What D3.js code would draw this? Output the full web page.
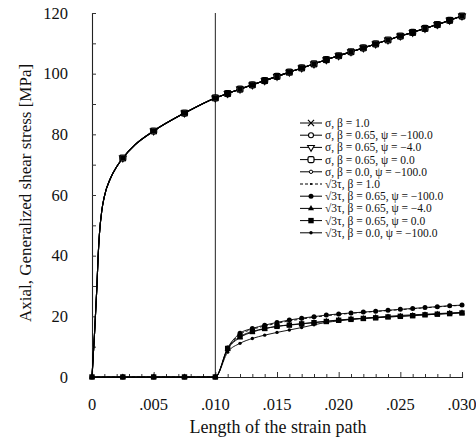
<!DOCTYPE html>
<html><head><meta charset="utf-8">
<script src="https://cdn.jsdelivr.net/npm/d3@7"></script>
<style>
html,body{margin:0;padding:0;background:#fff;}
svg{display:block;}
</style></head>
<body>
<script>
// ---------- data ----------
const sigmaStrain = [0, 0.0002, 0.0004, 0.0005, 0.0006, 0.0008, 0.001, 0.0015, 0.002, 0.0025, 0.0035, 0.005, 0.0075,
  0.010, 0.011, 0.012, 0.013, 0.014, 0.015, 0.016, 0.017, 0.018, 0.019, 0.020,
  0.021, 0.022, 0.023, 0.024, 0.025, 0.026, 0.027, 0.028, 0.029, 0.030];
const sigmaStress = [0, 14, 30, 40, 47, 55, 59.5, 65.5, 69.3, 72.2, 76.6, 81.1, 87.0,
  92.0, 93.45, 94.9, 96.3, 97.7, 99.1, 100.5, 101.9, 103.2, 104.6, 105.9,
  107.2, 108.5, 109.8, 111.1, 112.4, 113.6, 114.9, 116.2, 117.6, 119.0];
// strains at which the σ curve carries a symbol
const sigmaMarkedStrain = [0.0025, 0.005, 0.0075, 0.010, 0.011, 0.012, 0.013, 0.014, 0.015, 0.016, 0.017, 0.018, 0.019, 0.020,
  0.021, 0.022, 0.023, 0.024, 0.025, 0.026, 0.027, 0.028, 0.029, 0.030];

const tauStrain = [0, 0.0025, 0.005, 0.0075, 0.010, 0.011, 0.012, 0.013, 0.014, 0.015, 0.016, 0.017, 0.018, 0.019, 0.020,
  0.021, 0.022, 0.023, 0.024, 0.025, 0.026, 0.027, 0.028, 0.029, 0.030];
const tauB100 = [0,0,0,0, 0, 9.4, 14.0, 15.7, 16.8, 17.7, 18.5, 19.1, 19.7, 20.2, 20.6, 21.0, 21.3, 21.6, 21.9, 22.2, 22.5, 22.8, 23.1, 23.4, 23.6];
const tauB065P100 = [0,0,0,0, 0, 9.6, 14.4, 16.0, 17.1, 18.0, 18.8, 19.4, 19.9, 20.4, 20.8, 21.1, 21.4, 21.7, 22.0, 22.3, 22.6, 22.9, 23.2, 23.5, 23.7];
const tauB065P4 = [0,0,0,0, 0, 9.2, 13.0, 14.8, 15.9, 16.7, 17.2, 17.6, 18.0, 18.4, 18.8, 19.1, 19.3, 19.6, 19.8, 20.0, 20.3, 20.5, 20.7, 21.0, 21.2];
const tauB065P0 = [0,0,0,0, 0, 9.4, 13.3, 15.0, 16.0, 16.7, 17.1, 17.5, 17.9, 18.3, 18.7, 19.0, 19.3, 19.5, 19.8, 20.0, 20.2, 20.5, 20.7, 20.9, 21.1];
const tauB000P100 = [0,0,0,0, 0, 8.2, 11.1, 12.7, 13.8, 14.7, 15.5, 16.3, 17.2, 18.0, 18.5, 19.0, 19.4, 19.7, 20.0, 20.3, 20.5, 20.7, 20.9, 21.1, 21.3];

const legendLabels = [
  "σ, β = 1.0",
  "σ, β = 0.65, ψ = −100.0",
  "σ, β = 0.65, ψ = −4.0",
  "σ, β = 0.65, ψ = 0.0",
  "σ, β = 0.0, ψ = −100.0",
  "√3τ, β = 1.0",
  "√3τ, β = 0.65, ψ = −100.0",
  "√3τ, β = 0.65, ψ = −4.0",
  "√3τ, β = 0.65, ψ = 0.0",
  "√3τ, β = 0.0, ψ = −100.0"
];
const markerTypes = ["times","circleOpen","triangleOpen","squareOpen","smallCircleOpen",
                     "tinyDot","circleFilled","triangleFilled","squareFilled","smallDot"];
const yTicks = [0, 20, 40, 60, 80, 100, 120];
const xTicks = [0, 0.005, 0.010, 0.015, 0.020, 0.025, 0.030];
const xTickLabels = ["0", ".005", ".010", ".015", ".020", ".025", ".030"];
const xTitle = "Length of the strain path";
const yTitle = "Axial, Generalized shear stress [MPa]";

// ---------- series ----------
const series = [
  {x: sigmaStrain, y: sigmaStress},
  {x: sigmaStrain, y: sigmaStress},
  {x: sigmaStrain, y: sigmaStress},
  {x: sigmaStrain, y: sigmaStress},
  {x: sigmaStrain, y: sigmaStress},
  {x: tauStrain, y: tauB100, dash: "3,2"},
  {x: tauStrain, y: tauB065P100},
  {x: tauStrain, y: tauB065P4},
  {x: tauStrain, y: tauB065P0},
  {x: tauStrain, y: tauB000P100}
].map((s, i) => ({...s, label: legendLabels[i], marker: markerTypes[i]}));

// ---------- layout ----------
const W = 476, H = 443;
const FONT = "'Liberation Serif'";
const m = {left: 92, right: 14, top: 13, bottom: 66};
const svg = d3.select("body").append("svg").attr("width", W).attr("height", H)
  .attr("font-family", FONT);
const x = d3.scaleLinear().domain([0, 0.030]).range([m.left, W - m.right]);
const y = d3.scaleLinear().domain([0, 120]).range([H - m.bottom, m.top]);

// axes
const yAxis = d3.axisLeft(y).tickValues(d3.range(0, 121, 10)).tickSize(-4).tickFormat("");
svg.append("g").attr("transform", `translate(${m.left},0)`).call(yAxis)
  .call(g => g.select(".domain").attr("stroke", "#222").attr("stroke-width", 1.1))
  .call(g => g.selectAll(".tick line").attr("stroke", "#333"));
svg.append("g").selectAll("text").data(yTicks).join("text")
  .attr("x", 68).attr("y", d => y(d)).attr("dy", "0.35em")
  .attr("text-anchor", "end").attr("font-size", 16.5).attr("fill", "#111")
  .attr("font-family", FONT).text(d => d);

const xMinor = d3.range(0, 31).map(i => i / 1000);
const xAxis = d3.axisBottom(x).tickValues(xMinor).tickSize(-3).tickFormat("");
svg.append("g").attr("transform", `translate(0,${y(0)})`).call(xAxis)
  .call(g => g.select(".domain").attr("stroke", "#222").attr("stroke-width", 1.1))
  .call(g => g.selectAll(".tick line").attr("stroke", "#333")
     .attr("y2", d => (Math.round(d * 1000) % 5 === 0 ? -5 : -3)));
svg.append("g").selectAll("text").data(xTicks).join("text")
  .attr("x", d => x(d)).attr("y", 410)
  .attr("text-anchor", "middle").attr("font-size", 16.5).attr("fill", "#111")
  .attr("font-family", FONT).text((d, i) => xTickLabels[i]);

svg.append("text").attr("x", 278).attr("y", 433).attr("text-anchor", "middle")
  .attr("font-size", 18).attr("fill", "#111").attr("font-family", FONT).text(xTitle);
svg.append("text").attr("transform", "translate(31,193) rotate(-90)")
  .attr("text-anchor", "middle").attr("font-size", 17).attr("fill", "#111")
  .attr("font-family", FONT).text(yTitle);

// vertical reference line at strain 0.010
svg.append("line").attr("x1", x(0.010)).attr("x2", x(0.010))
  .attr("y1", y(0)).attr("y2", y(120)).attr("stroke", "#222").attr("stroke-width", 1);

// ---------- markers ----------
function drawMarker(g, type, cx, cy) {
  const k = g.append("g").attr("transform", `translate(${cx},${cy})`);
  const sym = (t, size) => d3.symbol().type(t).size(size)();
  switch (type) {
    case "times": k.append("path").attr("d", sym(d3.symbolTimes, 26)).attr("stroke", "#000").attr("stroke-width", 1.2).attr("fill", "none"); break;
    case "circleOpen": k.append("circle").attr("r", 2.5).attr("fill", "#fff").attr("stroke", "#000").attr("stroke-width", 1.1); break;
    case "triangleOpen": k.append("path").attr("d", sym(d3.symbolTriangle, 20)).attr("transform", "rotate(180)").attr("fill", "#fff").attr("stroke", "#000").attr("stroke-width", 1.1); break;
    case "squareOpen": k.append("rect").attr("x", -3).attr("y", -3).attr("width", 6).attr("height", 6).attr("rx", 1.5).attr("fill", "#fff").attr("stroke", "#000").attr("stroke-width", 1.2); break;
    case "smallCircleOpen": k.append("circle").attr("r", 1.7).attr("fill", "#fff").attr("stroke", "#000").attr("stroke-width", 1); break;
    case "tinyDot": k.append("circle").attr("r", 1.1).attr("fill", "#000"); break;
    case "circleFilled": k.append("circle").attr("r", 2.5).attr("fill", "#000"); break;
    case "triangleFilled": k.append("path").attr("d", sym(d3.symbolTriangle, 16)).attr("fill", "#000"); break;
    case "squareFilled": k.append("rect").attr("x", -2.7).attr("y", -2.7).attr("width", 5.4).attr("height", 5.4).attr("fill", "#000"); break;
    case "smallDot": k.append("circle").attr("r", 1.7).attr("fill", "#000"); break;
  }
}

const line = d3.line().x(d => x(d[0])).y(d => y(d[1])).curve(d3.curveMonotoneX);
const plot = svg.append("g");
series.forEach((s, i) => {
  const pts = s.x.map((v, j) => [v, s.y[j]]);
  plot.append("path").datum(pts).attr("d", line).attr("fill", "none")
    .attr("stroke", "#000").attr("stroke-width", i < 5 ? 1.1 : 0.9)
    .attr("stroke-dasharray", s.dash || null);
});
const isMarked = v => sigmaMarkedStrain.some(t => Math.abs(t - v) < 1e-9);
series.forEach((s, i) => {
  const g = plot.append("g");
  s.x.forEach((v, j) => {
    if (i < 5 && !isMarked(v)) return;
    drawMarker(g, s.marker, x(v), y(s.y[j]));
  });
});
// the five coincident σ symbols print as one dark square
const sg = plot.append("g");
sigmaStrain.forEach((v, j) => {
  if (!isMarked(v)) return;
  drawMarker(sg, "squareFilled", x(v), y(sigmaStress[j]));
});

// ---------- legend ----------
const lg = svg.append("g");
legendLabels.forEach((lab, i) => {
  const ly = 123 + i * 12.2;
  lg.append("line").attr("x1", 300).attr("x2", 322).attr("y1", ly).attr("y2", ly)
    .attr("stroke", "#000").attr("stroke-width", 1)
    .attr("stroke-dasharray", series[i].dash || null);
  drawMarker(lg, markerTypes[i], 311, ly);
  lg.append("text").attr("x", 325).attr("y", ly).attr("dy", "0.35em")
    .attr("font-size", 11.5).attr("fill", "#111").attr("font-family", FONT).text(lab);
});
</script>
</body></html>
